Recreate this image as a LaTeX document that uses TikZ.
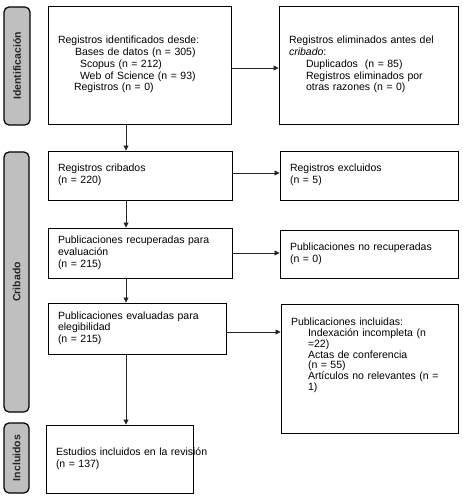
\documentclass[tikz,border=0pt]{standalone}
\usepackage{fontspec}
\setmainfont{Liberation Sans}
\usetikzlibrary{arrows.meta}
\definecolor{sidegray}{HTML}{BFBFBF}
\begin{document}
\begin{tikzpicture}[x=1pt,y=-1pt,
  box/.style={draw=black, line width=0.9pt, inner xsep=10pt, inner ysep=0pt,
    align=left, font=\fontsize{10.5}{11.8}\selectfont, anchor=center},
  side/.style={draw=black, line width=1.2pt, fill=sidegray, rounded corners=5pt,
    rotate=90, inner sep=0pt, font=\fontsize{10.5}{12}\selectfont\bfseries, text=black!85},
  arr/.style={draw=black!85, line width=0.8pt, -{Triangle[length=5pt,width=5pt]}}]
\useasboundingbox (0,0) rectangle (464,497);

% side bars
\node[side, minimum width=118pt, minimum height=26pt] (sideA) at (17,66) {Identificación};
\node[side, minimum width=260pt, minimum height=25pt] (sideB) at (16.5,282) {Cribado};
\node[side, minimum width=70pt, minimum height=25pt] (sideC) at (16.5,458) {Incluidos};

% boxes
\node[box, text width=163pt, minimum height=118pt] (ident) at (139.5,65)
{\begin{tabular}{@{}l@{}}Registros identificados desde:\\
\hspace*{17pt}Bases de datos (n = 305)\\
\hspace*{22pt}Scopus (n = 212)\\
\hspace*{22pt}Web of Science (n = 93)\\
\hspace*{16pt}Registros (n = 0)\end{tabular}};

\node[box, text width=159pt, minimum height=118pt] (elim) at (368.5,65)
{\begin{tabular}{@{}l@{}}Registros eliminados antes del\\
\textit{cribado}:\\
\hspace*{17pt}Duplicados\ \ (n = 85)\\
\hspace*{17pt}Registros eliminados por\\
\hspace*{17pt}otras razones (n = 0)\end{tabular}};

\node[box, text width=164pt, minimum height=49pt] (crib) at (140,175.5)
{\begin{tabular}{@{}l@{}}Registros cribados\\(n = 220)\end{tabular}};

\node[box, text width=158pt, minimum height=49pt] (excl) at (369,175.5)
{\begin{tabular}{@{}l@{}}Registros excluidos\\(n = 5)\end{tabular}};

\node[box, text width=164pt, minimum height=50pt] (recup) at (140,253)
{\begin{tabular}{@{}l@{}}Publicaciones recuperadas para\\evaluación\\(n = 215)\end{tabular}};

\node[box, text width=158pt, minimum height=48pt] (norec) at (369,254)
{\begin{tabular}{@{}l@{}}Publicaciones no recuperadas\\(n = 0)\end{tabular}};

\node[box, text width=158pt, minimum height=51pt] (eval) at (137,328.5)
{\begin{tabular}{@{}l@{}}Publicaciones evaluadas para\\elegibilidad\\(n = 215)\end{tabular}};

\node[box, text width=157pt, minimum height=129pt, text height=21.5pt, text depth=107.5pt,
  font=\fontsize{10.5}{10.7}\selectfont] (incl) at (369.5,368.5)
{\begin{tabular}[t]{@{}l@{}}Publicaciones incluidas:\\
\hspace*{17pt}Indexación incompleta (n\\
\hspace*{17pt}=22)\\
\hspace*{17pt}Actas de conferencia\\
\hspace*{17pt}(n = 55)\\
\hspace*{17pt}Artículos no relevantes (n =\\
\hspace*{17pt}1)\end{tabular}};

\node[box, text width=127pt, minimum height=68pt] (estud) at (119.5,459)
{\begin{tabular}{@{}l@{}}Estudios incluidos en la revisión\\(n = 137)\end{tabular}};

% spine for vertical arrows
\coordinate (spine) at (126,0);

\draw[arr] (ident.south -| spine) -- (crib.north -| spine);
\draw[arr] (crib.south -| spine) -- (recup.north -| spine);
\draw[arr] (recup.south -| spine) -- (eval.north -| spine);
\draw[arr] (eval.south -| spine) -- (estud.north -| spine);

\draw[arr] ([yshift=-3pt]ident.east) -- ([yshift=-3pt]ident.east -| elim.west);
\draw[arr] ([yshift=2.5pt]crib.east) -- ([yshift=2.5pt]crib.east -| excl.west);
\draw[arr] (recup.east) -- (recup.east -| norec.west);
\draw[arr] ([yshift=-3.5pt]eval.east) -- ([yshift=-3.5pt]eval.east -| incl.west);
\end{tikzpicture}
\end{document}
